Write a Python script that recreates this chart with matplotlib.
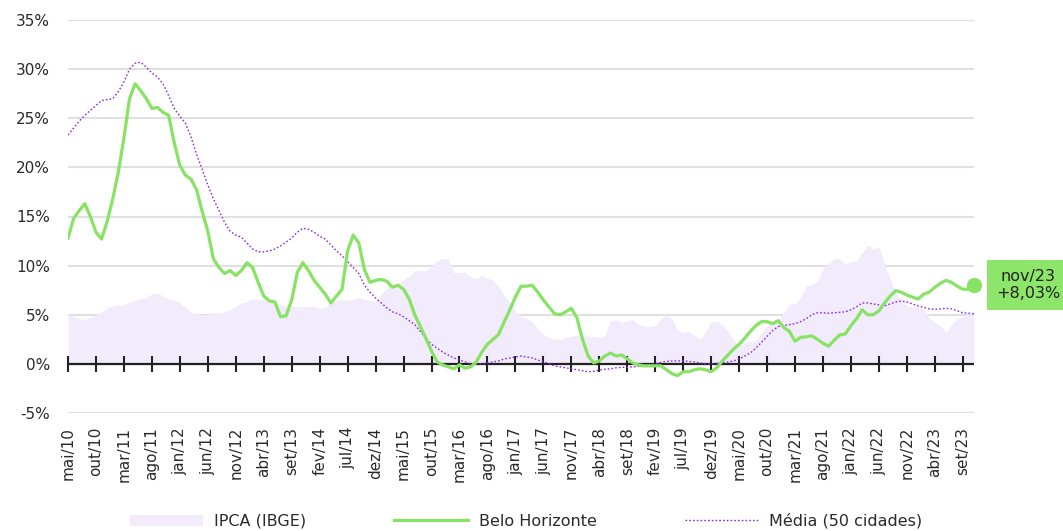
import matplotlib
matplotlib.use('Agg')
import matplotlib.pyplot as plt
import numpy as np

plt.rcParams['font.family'] = ['DejaVu Sans']

tick_labels = ['mai/10', 'out/10', 'mar/11', 'ago/11', 'jan/12', 'jun/12', 'nov/12', 'abr/13',
               'set/13', 'fev/14', 'jul/14', 'dez/14', 'mai/15', 'out/15', 'mar/16', 'ago/16',
               'jan/17', 'jun/17', 'nov/17', 'abr/18', 'set/18', 'fev/19', 'jul/19', 'dez/19',
               'mai/20', 'out/20', 'mar/21', 'ago/21', 'jan/22', 'jun/22', 'nov/22', 'abr/23',
               'set/23']

ipca = [5.0, 4.8, 4.6, 4.5, 4.7, 5.0, 5.3, 5.7, 5.9, 6.0,
        6.0, 6.3, 6.5, 6.6, 6.7, 7.1, 7.2, 6.9, 6.6, 6.5,
        6.2, 5.8, 5.2, 5.1, 5.0, 5.0, 5.2, 5.2, 5.3, 5.5,
        5.8, 6.2, 6.3, 6.6, 6.5, 6.6, 6.4, 6.3, 6.0, 5.9,
        5.9, 5.8, 5.9, 5.8, 5.9, 5.6, 5.8, 6.4, 6.5, 6.5,
        6.5, 6.6, 6.75, 6.6, 6.4, 6.4, 7.1, 7.7, 8.1, 8.2,
        8.5, 8.9, 9.5, 9.5, 9.5, 9.9, 10.5, 10.7, 10.7, 9.3,
        9.3, 9.3, 8.8, 8.7, 9.0, 8.7, 8.5, 7.9, 7.0, 6.3,
        5.4, 4.8, 4.6, 4.3, 3.6, 3.0, 2.7, 2.5, 2.5, 2.7,
        2.8, 2.9, 2.9, 2.8, 2.8, 2.7, 2.9, 4.4, 4.5, 4.2,
        4.4, 4.5, 4.0, 3.8, 3.8, 3.9, 4.6, 4.9, 4.6, 3.4,
        3.2, 3.3, 2.9, 2.5, 3.3, 4.3, 4.3, 4.0, 3.3, 2.4,
        1.9, 2.1, 2.3, 2.4, 3.1, 3.9, 4.3, 4.5, 5.2, 6.1,
        6.1, 6.8, 7.9, 8.1, 8.4, 9.7, 10.2, 10.7, 10.7, 10.1,
        10.4, 10.5, 11.3, 12.1, 11.7, 11.9, 10.1, 8.7, 7.2, 6.5,
        5.9, 5.8, 5.8, 5.6, 4.7, 4.2, 3.9, 3.2, 4.0, 4.6,
        4.8, 5.2, 4.8]

bh = [12.8, 14.8, 15.6, 16.3, 15.0, 13.4, 12.7, 14.5, 16.8, 19.5,
      23.0, 27.0, 28.5, 27.8, 27.0, 26.0, 26.1, 25.6, 25.3, 22.5,
      20.2, 19.2, 18.8, 17.7, 15.5, 13.5, 10.7, 9.8, 9.2, 9.5,
      9.0, 9.5, 10.3, 9.8, 8.3, 6.9, 6.4, 6.3, 4.8, 4.9,
      6.5, 9.3, 10.3, 9.5, 8.5, 7.8, 7.1, 6.2, 6.9, 7.6,
      11.5, 13.1, 12.3, 9.6, 8.3, 8.5, 8.6, 8.4, 7.8, 8.0,
      7.6, 6.6, 5.0, 3.8, 2.6, 1.3, 0.2, -0.1, -0.3, -0.5,
      -0.1, -0.45, -0.3, 0.2, 1.2, 2.0, 2.5, 3.0, 4.3, 5.5,
      6.8, 7.9, 7.9, 8.0, 7.3, 6.5, 5.8, 5.1, 5.0, 5.3,
      5.65, 4.7, 2.5, 0.8, 0.1, 0.3, 0.8, 1.1, 0.8, 0.9,
      0.5, 0.1, -0.1, -0.2, -0.2, -0.2, -0.2, -0.6, -1.0, -1.2,
      -0.8, -0.8, -0.6, -0.5, -0.6, -0.8, -0.4, 0.3, 0.9, 1.5,
      2.0, 2.6, 3.3, 3.9, 4.3, 4.3, 4.1, 4.4, 3.7, 3.3,
      2.3, 2.7, 2.75, 2.85, 2.5, 2.1, 1.8, 2.4, 2.95, 3.05,
      3.9, 4.6, 5.5, 5.0, 5.0, 5.4, 6.2, 6.9, 7.45, 7.3,
      7.0, 6.8, 6.6, 7.1, 7.3, 7.8, 8.2, 8.5, 8.3, 7.9,
      7.6, 7.6, 8.03]

media = [23.3, 24.0, 24.7, 25.3, 25.8, 26.3, 26.8, 26.9, 27.0, 27.7,
         28.7, 30.0, 30.6, 30.7, 30.2, 29.6, 29.2, 28.5, 27.3, 26.0,
         25.2, 24.5, 23.1, 21.3, 19.8, 18.2, 16.8, 15.6, 14.4, 13.5,
         13.1, 12.9, 12.3, 11.7, 11.4, 11.4, 11.5, 11.7, 12.0, 12.4,
         12.8, 13.4, 13.8, 13.7, 13.4, 13.0, 12.7, 12.1, 11.5, 11.0,
         10.4, 9.8, 9.2, 8.0, 7.3, 6.7, 6.2, 5.7, 5.3, 5.1,
         4.8, 4.4, 4.0, 3.3, 2.6, 2.0, 1.6, 1.2, 0.9, 0.6,
         0.4, 0.2, 0.0, 0.0, 0.0, 0.1, 0.2, 0.3, 0.5, 0.6,
         0.7, 0.8, 0.7, 0.6, 0.4, 0.2, 0.0, -0.2, -0.3, -0.4,
         -0.5, -0.6, -0.7, -0.8, -0.75, -0.65, -0.55, -0.5, -0.4, -0.35,
         -0.35, -0.3, -0.25, -0.2, -0.1, 0.0, 0.15, 0.25, 0.3, 0.3,
         0.3, 0.25, 0.2, 0.1, 0.0, 0.0, 0.05, 0.1, 0.2, 0.3,
         0.5, 0.8, 1.1, 1.6, 2.2, 2.8, 3.4, 3.8, 3.9, 4.0,
         4.1, 4.3, 4.6, 5.0, 5.2, 5.2, 5.15, 5.2, 5.25, 5.3,
         5.5, 5.8, 6.2, 6.2, 6.1, 6.0, 5.9, 6.1, 6.3, 6.4,
         6.3, 6.1, 5.9, 5.75, 5.6, 5.55, 5.6, 5.65, 5.6, 5.4,
         5.2, 5.15, 5.1]

series_names = ['IPCA (IBGE)', 'Belo Horizonte', 'Média (50 cidades)']
last_label = 'nov/23'
last_value_text = '+8,03%'
y_ticks = [-5, 0, 5, 10, 15, 20, 25, 30, 35]
y_tick_labels = ['-5%', '0%', '5%', '10%', '15%', '20%', '25%', '30%', '35%']

GREEN = '#88e264'
PURPLE = '#8a2be2'
AREA = '#f1ebfc'
TXT = '#2a2a2a'

W, H = 1063, 531
fig = plt.figure(figsize=(W / 100, H / 100), dpi=100)
ax = fig.add_axes([68 / W, 1 - 413 / H, (974 - 68) / W, (413 - 20) / H])

x = np.arange(len(bh))
ax.fill_between(x, 0, ipca, color=AREA, lw=0, zorder=1, label=series_names[0])
ax.axhline(0, color='#222222', lw=1.6, zorder=1.5)
tick_pos = x[::5][:len(tick_labels)]
ax.plot(tick_pos, np.zeros(len(tick_pos)), ls='none', marker='|', ms=12, mew=1.5,
        color='#222222', zorder=1.6, clip_on=False)
ax.plot(x, bh, color=GREEN, lw=2.3, zorder=3, label=series_names[1],
        solid_joinstyle='round')
ax.plot(x, media, color=PURPLE, lw=1.0, ls=(0, (1.2, 1.5)), zorder=2.5,
        label=series_names[2])
ax.plot(x[-1], bh[-1], 'o', ms=10, color=GREEN, zorder=4, clip_on=False)

ax.set_xlim(0, len(bh) - 1)
ax.set_ylim(-5, 35)
ax.set_yticks(y_ticks)
ax.set_yticklabels(y_tick_labels)
ax.set_xticks(tick_pos)
ax.set_xticklabels(tick_labels, rotation=90, va='top', ha='center')
ax.tick_params(axis='y', length=0, pad=13, labelsize=11, labelcolor=TXT)
ax.tick_params(axis='x', length=0, pad=10, labelsize=11, labelcolor=TXT)
ax.grid(axis='y', color='#e0e0e0', lw=1.5)
ax.set_axisbelow(True)
for s in ax.spines.values():
    s.set_visible(False)

ax.annotate(last_label + '\n' + last_value_text, xy=(x[-1], bh[-1]),
            xytext=(16, 0), textcoords='offset points', ha='left', va='center',
            multialignment='center', fontsize=11.5, color='#222222',
            annotation_clip=False,
            bbox=dict(boxstyle='square,pad=0.55', fc='#8de66a', ec='none'))

handles, labels = ax.get_legend_handles_labels()
fig.legend(handles, labels, loc='center', bbox_to_anchor=(526 / W, 1 - 521 / H),
           ncol=3, frameon=False, fontsize=11.5, handlelength=4.6,
           columnspacing=5.5, handletextpad=0.7, labelcolor=TXT)

fig.savefig('out.png', dpi=100)
